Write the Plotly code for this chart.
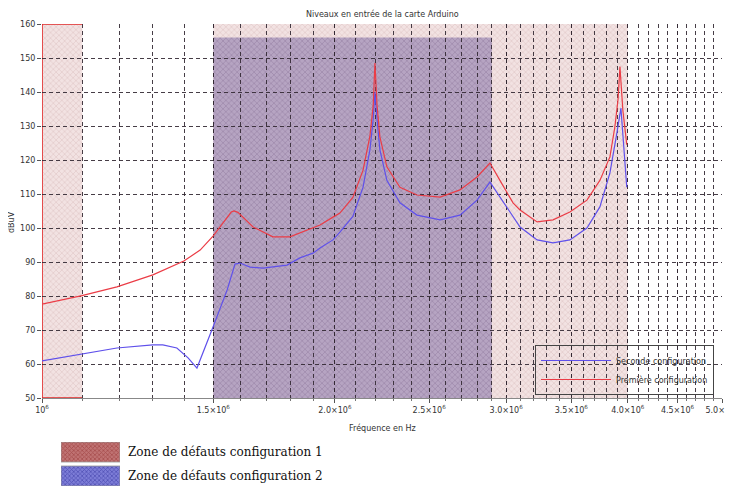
import plotly.graph_objects as go
import math

# ---------------- data ----------------
freq_red_mhz = [1.000, 1.099, 1.194, 1.300, 1.399, 1.454, 1.499, 1.550, 1.565, 1.575, 1.590,
                1.648, 1.727, 1.798, 1.841, 1.899, 1.931, 1.991, 2.024, 2.087, 2.138, 2.173,
                2.190, 2.199, 2.210, 2.225, 2.262, 2.333, 2.429, 2.566, 2.689, 2.800, 2.887,
                2.956, 3.006, 3.049, 3.100, 3.228, 3.352, 3.488, 3.632, 3.745, 3.835, 3.880,
                3.910, 3.927, 3.954, 3.991]
level_red = [77.6, 80.1, 82.7, 86.2, 90.3, 93.5, 97.6, 103.3, 104.7, 105.0, 104.6,
             100.3, 97.4, 97.4, 98.5, 100.0, 100.9, 103.2, 104.4, 109.0, 117.0, 127.0,
             136.0, 148.5, 136.0, 126.8, 118.0, 112.0, 109.7, 109.1, 111.2, 115.0, 119.1,
             114.0, 110.3, 107.4, 105.3, 101.8, 102.4, 104.7, 108.2, 114.0, 120.9, 129.7,
             138.0, 147.5, 134.7, 124.5]

freq_blue_mhz = [1.000, 1.099, 1.194, 1.300, 1.331, 1.376, 1.413, 1.443, 1.464, 1.499, 1.550,
                 1.579, 1.598, 1.636, 1.687, 1.786, 1.841, 1.899, 1.931, 1.991, 2.024, 2.087,
                 2.138, 2.173, 2.190, 2.199, 2.210, 2.225, 2.262, 2.333, 2.429, 2.566, 2.689,
                 2.800, 2.887, 2.956, 3.006, 3.049, 3.100, 3.228, 3.352, 3.488, 3.632, 3.745,
                 3.835, 3.899, 3.936, 3.963, 3.991]
level_blue = [60.9, 62.9, 64.7, 65.6, 65.6, 64.7, 61.8, 58.8, 63.2, 70.9, 81.8,
              89.4, 89.7, 88.5, 88.2, 89.1, 91.2, 92.6, 94.1, 96.5, 98.8, 103.4,
              112.0, 123.0, 132.0, 140.0, 132.0, 123.0, 114.0, 107.4, 103.8, 102.4, 103.8,
              108.2, 113.5, 109.1, 106.2, 103.2, 100.3, 96.5, 95.6, 96.5, 100.0, 106.2,
              116.2, 128.0, 135.3, 123.8, 112.0]

zone1_bounds_mhz = [(1.0, 1.1), (1.5, 4.0)]
zone1_top = 160
zone2_bounds_mhz = [(1.5, 2.9)]
zone2_top = 156
level_floor = 50

x_tick_vals = [1.0e6, 1.5e6, 2.0e6, 2.5e6, 3.0e6, 3.5e6, 4.0e6, 4.5e6, 5.0e6]
x_tick_text = ["10<sup>6</sup>", "1.5×10<sup>6</sup>", "2.0×10<sup>6</sup>", "2.5×10<sup>6</sup>",
               "3.0×10<sup>6</sup>", "3.5×10<sup>6</sup>", "4.0×10<sup>6</sup>",
               "4.5×10<sup>6</sup>", "5.0×10<sup>6</sup>"]
x_grid_vals = [k * 1e5 for k in range(10, 51)]
y_range = [50, 160]
x_range_hz = [1e6, 5e6]

legend_zone_labels = ["Zone de défauts configuration 1", "Zone de défauts configuration 2"]

# ---------------- layout constants ----------------
OFF = 8  # page body margin of the HTML page
W, H = 733 - OFF, 487 - OFF
ML, MR, MT, MB = 42 - OFF, 11, 24 - OFF, 0
PW = W - ML - MR
PH = H - MT - MB


def fy(px):
    """reference-picture pixel row -> paper fraction"""
    return (H - MB - (px - OFF)) / PH


def fx(px):
    """reference-picture pixel column -> paper fraction"""
    return (px - OFF - ML) / PW


main_dom_y = [fy(398), 1.0]

fig = go.Figure()

pink_pattern = dict(shape="x", size=4, solidity=0.3, fgcolor="rgb(208,172,174)",
                    bgcolor="rgb(242,226,226)")
purple_pattern = dict(shape="x", size=4, solidity=0.3, fgcolor="rgb(128,104,140)",
                      bgcolor="rgb(182,164,194)")

for i, (a, b) in enumerate(zone1_bounds_mhz):
    xs = [b * 1e6, a * 1e6, a * 1e6, b * 1e6]
    ys = [level_floor, level_floor, zone1_top, zone1_top]
    fig.add_trace(go.Scatter(x=xs, y=ys, mode="lines", fill="toself",
                             fillcolor="rgb(242,226,226)", fillpattern=pink_pattern,
                             line=dict(color="rgb(225,40,40)" if i == 0 else "rgba(0,0,0,0)",
                                       width=1.6 if i == 0 else 0),
                             showlegend=False, hoverinfo="skip", xaxis="x", yaxis="y"))
for (a, b) in zone2_bounds_mhz:
    xs = [a * 1e6, b * 1e6, b * 1e6, a * 1e6, a * 1e6]
    ys = [level_floor, level_floor, zone2_top, zone2_top, level_floor]
    fig.add_trace(go.Scatter(x=xs, y=ys, mode="lines", fill="toself",
                             fillcolor="rgb(182,164,194)", fillpattern=purple_pattern,
                             line=dict(color="rgba(0,0,0,0)", width=0),
                             showlegend=False, hoverinfo="skip", xaxis="x", yaxis="y"))

fig.add_trace(go.Scatter(x=[f * 1e6 for f in freq_blue_mhz], y=level_blue, mode="lines",
                         name="Seconde configuration",
                         line=dict(color="rgb(95,80,235)", width=1.2),
                         xaxis="x2", yaxis="y2"))
fig.add_trace(go.Scatter(x=[f * 1e6 for f in freq_red_mhz], y=level_red, mode="lines",
                         name="Première configuration",
                         line=dict(color="rgb(235,60,70)", width=1.2),
                         xaxis="x2", yaxis="y2"))

sw_cols = [("rgb(192,115,115)", "rgb(140,40,40)"), ("rgb(125,125,215)", "rgb(40,40,150)")]
for k in range(2):
    y0 = 24 if k == 0 else 0
    bg, fg = sw_cols[k]
    fig.add_trace(go.Scatter(x=[0, 1, 1, 0, 0], y=[y0, y0, y0 + 20, y0 + 20, y0],
                             mode="lines", fill="toself", fillcolor=bg,
                             fillpattern=dict(shape="x", size=3, solidity=0.45,
                                              fgcolor=fg, bgcolor=bg),
                             line=dict(color="rgb(150,150,150)", width=0.8),
                             showlegend=False, hoverinfo="skip", xaxis="x3", yaxis="y3"))

tick_font = dict(family="DejaVu Sans", size=8, color="#333")
grid_col = "rgba(50,40,50,0.9)"
lr = [math.log10(x_range_hz[0]), math.log10(x_range_hz[1])]

fig.update_layout(
    width=W, height=H,
    margin=dict(l=ML, r=MR, t=MT, b=MB, autoexpand=False),
    paper_bgcolor="white", plot_bgcolor="rgba(0,0,0,0)",
    xaxis=dict(type="log", range=lr, domain=[0, 1], anchor="y", visible=False),
    yaxis=dict(range=y_range, domain=main_dom_y, anchor="x", visible=False),
    xaxis2=dict(type="log", range=lr, domain=[0, 1], anchor="y2",
                tickmode="array", tickvals=x_tick_vals, ticktext=x_tick_text,
                tickfont=tick_font, ticks="outside", ticklen=4, tickcolor="#555",
                ticklabeloverflow="allow",
                showgrid=True, gridcolor=grid_col, griddash="4px,3px", gridwidth=1,
                minor=dict(tickmode="array", tickvals=x_grid_vals, showgrid=True,
                           gridcolor=grid_col, griddash="4px,3px", gridwidth=1,
                           ticks="outside", ticklen=2, tickcolor="#777"),
                showline=True, linecolor="#888", linewidth=1, zeroline=False),
    yaxis2=dict(range=y_range, domain=main_dom_y, anchor="x2",
                tickmode="linear", tick0=50, dtick=10, tickfont=tick_font,
                ticks="outside", ticklen=4, tickcolor="#555",
                showgrid=True, gridcolor=grid_col, griddash="4px,3px", gridwidth=1,
                showline=False, zeroline=False),
    xaxis3=dict(range=[0, 1], domain=[fx(61), fx(120)], anchor="y3", visible=False),
    yaxis3=dict(range=[0, 44], domain=[fy(486), fy(442)], anchor="x3", visible=False),
    showlegend=True,
    legend=dict(x=fx(535), y=fy(395), xanchor="left", yanchor="bottom",
                bgcolor="rgba(0,0,0,0)", bordercolor="#444", borderwidth=1,
                font=dict(family="DejaVu Sans", size=8, color="#333"),
                itemwidth=70, tracegroupgap=0),
    annotations=[
        dict(text="Niveaux en entrée de la carte Arduino", xref="paper", yref="paper",
             x=0.5, y=fy(14), xanchor="center", yanchor="middle", showarrow=False,
             font=dict(family="DejaVu Sans", size=8, color="#333")),
        dict(text="Fréquence en Hz", xref="paper", yref="paper",
             x=0.5, y=fy(428), xanchor="center", yanchor="middle", showarrow=False,
             font=dict(family="DejaVu Sans", size=8, color="#333")),
        dict(text="dBuV", xref="paper", yref="paper", textangle=-90,
             x=fx(12), y=fy(222), xanchor="center", yanchor="middle", showarrow=False,
             font=dict(family="DejaVu Sans", size=8, color="#333")),
        dict(text=legend_zone_labels[0], xref="paper", yref="paper",
             x=fx(126), y=fy(452), xanchor="left", yanchor="middle", showarrow=False,
             font=dict(family="DejaVu Serif", size=12, color="#111")),
        dict(text=legend_zone_labels[1], xref="paper", yref="paper",
             x=fx(126), y=fy(476), xanchor="left", yanchor="middle", showarrow=False,
             font=dict(family="DejaVu Serif", size=12, color="#111")),
    ],
)

fig.write_html("out.html")
